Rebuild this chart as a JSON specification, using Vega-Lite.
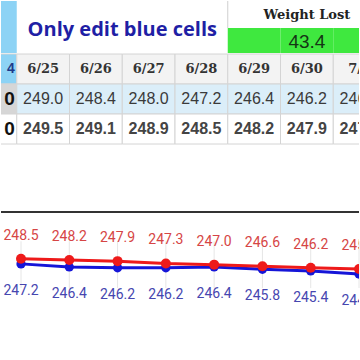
{
  "$schema": "https://vega.github.io/schema/vega-lite/v6.json",
  "width": 360,
  "height": 360,
  "autosize": {"type": "fit", "contains": "padding"},
  "padding": 0,
  "background": "white",
  "config": {"view": {"stroke": null}},
  "datasets": {
    "days": [
      {"date": "6/24", "weight": 250.0, "avg": 250.0},
      {"date": "6/25", "weight": 249.0, "avg": 249.5},
      {"date": "6/26", "weight": 248.4, "avg": 249.1},
      {"date": "6/27", "weight": 248.0, "avg": 248.9},
      {"date": "6/28", "weight": 247.2, "avg": 248.5},
      {"date": "6/29", "weight": 246.4, "avg": 248.2},
      {"date": "6/30", "weight": 246.2, "avg": 247.9},
      {"date": "7/1", "weight": 246.2, "avg": 247.3},
      {"date": "7/2", "weight": 246.4, "avg": 247.0},
      {"date": "7/3", "weight": 245.8, "avg": 246.6},
      {"date": "7/4", "weight": 245.4, "avg": 246.2},
      {"date": "7/5", "weight": 244.6, "avg": 245.9}
    ],
    "header": [{"title": "Only edit blue cells", "lostLabel": "Weight Lost", "lost": 43.4}],
    "edge": [
      {"row": "dates", "text": "4"},
      {"row": "weight", "text": "0"},
      {"row": "avg", "text": "0"}
    ]
  },
  "layer": [
    {
      "data": {"name": "days"},
      "transform": [{"filter": {"field": "date", "oneOf": ["6/24", "6/25", "6/26", "6/27", "6/28", "6/29", "6/30", "7/1"]}}],
      "layer": [
        {
          "transform": [{"filter": "datum.date === '6/24'"}],
          "mark": {"type": "rect", "fill": "#8dd3f5", "clip": true},
          "encoding": {
            "x": {"field": "date", "type": "nominal", "scale": {"type": "band", "domain": ["6/24", "6/25", "6/26", "6/27", "6/28", "6/29", "6/30", "7/1"], "range": [-37, 385], "paddingInner": 0, "paddingOuter": 0}, "axis": null},
            "y": {"datum": 0, "type": "quantitative", "scale": {"domain": [0, 2], "range": [0, 52], "nice": false, "zero": false}, "axis": null},
            "y2": {"datum": 2}
          }
        },
        {
          "transform": [{"filter": {"field": "date", "oneOf": ["6/29", "6/30", "7/1"]}}],
          "mark": {"type": "rect", "fill": "#3fe83f", "clip": true},
          "encoding": {
            "x": {"field": "date", "type": "nominal"},
            "y": {"datum": 1.04, "type": "quantitative"},
            "y2": {"datum": 2}
          }
        },
        {
          "data": {"values": [{}]},
          "mark": {"type": "rule", "color": "#cfcfcf", "strokeWidth": 1},
          "encoding": {
            "x": {"datum": "6/29", "type": "nominal", "bandPosition": 0},
            "y": {"datum": 0, "type": "quantitative"},
            "y2": {"datum": 1.04}
          }
        },
        {
          "data": {"name": "header"},
          "mark": {"type": "text", "font": "Open Sans", "fontWeight": "bold", "fontSize": 20, "color": "#1f1fa5", "align": "center", "baseline": "alphabetic"},
          "encoding": {
            "x": {"datum": "6/27", "type": "nominal", "bandPosition": 0},
            "y": {"datum": 1.35, "type": "quantitative"},
            "text": {"field": "title"}
          }
        },
        {
          "data": {"name": "header"},
          "mark": {"type": "text", "font": "DejaVu Serif", "fontWeight": "bold", "fontSize": 13, "color": "#222222", "align": "center", "baseline": "alphabetic"},
          "encoding": {
            "x": {"datum": "6/30", "type": "nominal", "bandPosition": 0.5},
            "y": {"datum": 0.71, "type": "quantitative"},
            "text": {"field": "lostLabel"}
          }
        },
        {
          "data": {"name": "header"},
          "mark": {"type": "text", "font": "Liberation Sans", "fontSize": 19, "color": "#153515", "align": "center", "baseline": "alphabetic"},
          "encoding": {
            "x": {"datum": "6/30", "type": "nominal", "bandPosition": 0.5},
            "y": {"datum": 1.81, "type": "quantitative"},
            "text": {"field": "lost", "type": "quantitative", "format": ".1f"}
          }
        }
      ]
    },
    {
      "data": {"name": "days"},
      "transform": [{"filter": {"field": "date", "oneOf": ["6/24", "6/25", "6/26", "6/27", "6/28", "6/29", "6/30", "7/1"]}}],
      "layer": [
        {
          "mark": {"type": "rect", "stroke": "#d4d4d4", "strokeWidth": 1, "clip": true},
          "encoding": {
            "x": {"field": "date", "type": "nominal", "scale": {"type": "band", "domain": ["6/24", "6/25", "6/26", "6/27", "6/28", "6/29", "6/30", "7/1"], "range": [-37, 385], "paddingInner": 0, "paddingOuter": 0}, "axis": null},
            "y": {"datum": "dates", "type": "nominal", "scale": {"type": "band", "domain": ["dates", "weight", "avg"], "range": [53, 143], "paddingInner": 0, "paddingOuter": 0}, "axis": null},
            "fill": {"condition": {"test": "datum.date === '6/24'", "value": "#8dd3f5"}, "value": "#f3f3f3"}
          }
        },
        {
          "mark": {"type": "rect", "stroke": "#d4d4d4", "strokeWidth": 1, "clip": true},
          "encoding": {
            "x": {"field": "date", "type": "nominal"},
            "y": {"datum": "weight", "type": "nominal"},
            "fill": {"condition": {"test": "datum.date === '6/24'", "value": "#d6d6d6"}, "value": "#dbeef9"}
          }
        },
        {
          "mark": {"type": "rect", "stroke": "#d4d4d4", "strokeWidth": 1, "clip": true, "fill": "#ffffff"},
          "encoding": {
            "x": {"field": "date", "type": "nominal"},
            "y": {"datum": "avg", "type": "nominal"}
          }
        },
        {
          "transform": [{"filter": "datum.date !== '6/24'"}],
          "mark": {"type": "text", "font": "DejaVu Serif", "fontWeight": "bold", "fontSize": 13, "color": "#333333", "baseline": "middle", "clip": true},
          "encoding": {
            "x": {"field": "date", "type": "nominal"},
            "y": {"datum": "dates", "type": "nominal"},
            "text": {"field": "date"}
          }
        },
        {
          "transform": [{"filter": "datum.date !== '6/24'"}],
          "mark": {"type": "text", "font": "Liberation Sans", "fontSize": 16, "color": "#3a3a3a", "baseline": "middle", "clip": true},
          "encoding": {
            "x": {"field": "date", "type": "nominal"},
            "y": {"datum": "weight", "type": "nominal"},
            "text": {"field": "weight", "type": "quantitative", "format": ".1f"}
          }
        },
        {
          "transform": [{"filter": "datum.date !== '6/24'"}],
          "mark": {"type": "text", "font": "Liberation Sans", "fontWeight": "bold", "fontSize": 16, "color": "#444444", "baseline": "middle", "clip": true},
          "encoding": {
            "x": {"field": "date", "type": "nominal"},
            "y": {"datum": "avg", "type": "nominal"},
            "text": {"field": "avg", "type": "quantitative", "format": ".1f"}
          }
        },
        {
          "data": {"name": "edge"},
          "transform": [{"filter": "datum.row === 'dates'"}],
          "mark": {"type": "text", "font": "Liberation Sans", "fontWeight": "bold", "fontSize": 14, "color": "#1f3a8a", "align": "right", "baseline": "middle", "dx": -2, "clip": true},
          "encoding": {
            "x": {"datum": "6/24", "type": "nominal", "bandPosition": 1},
            "y": {"field": "row", "type": "nominal"},
            "text": {"field": "text"}
          }
        },
        {
          "data": {"name": "edge"},
          "transform": [{"filter": "datum.row !== 'dates'"}],
          "mark": {"type": "text", "font": "Liberation Sans", "fontWeight": "bold", "fontSize": 19, "color": "#111111", "align": "right", "baseline": "middle", "dx": -2, "clip": true},
          "encoding": {
            "x": {"datum": "6/24", "type": "nominal", "bandPosition": 1},
            "y": {"field": "row", "type": "nominal"},
            "text": {"field": "text"}
          }
        }
      ]
    },
    {
      "data": {"name": "days"},
      "transform": [{"filter": {"field": "date", "oneOf": ["6/28", "6/29", "6/30", "7/1", "7/2", "7/3", "7/4", "7/5"]}}],
      "layer": [
        {
          "mark": {"type": "rule", "color": "#e6e6e6", "strokeWidth": 1},
          "encoding": {
            "x": {"field": "date", "type": "ordinal", "scale": {"type": "point", "domain": ["6/28", "6/29", "6/30", "7/1", "7/2", "7/3", "7/4", "7/5"], "range": [20, 358], "padding": 0}, "axis": null},
            "y": {"datum": 253, "type": "quantitative", "scale": {"domain": [222.3, 260.5], "range": [360, 211], "nice": false, "zero": false}, "axis": null},
            "y2": {"datum": 241}
          }
        },
        {
          "data": {"values": [{}]},
          "mark": {"type": "rule", "color": "#333333", "strokeWidth": 2},
          "encoding": {
            "y": {"datum": 260.5, "type": "quantitative"}
          }
        },
        {
          "mark": {"type": "line", "color": "#1515d8", "strokeWidth": 3, "clip": true},
          "encoding": {
            "x": {"field": "date", "type": "ordinal"},
            "y": {"field": "weight", "type": "quantitative"}
          }
        },
        {
          "mark": {"type": "circle", "color": "#1515d8", "opacity": 1, "size": 85, "clip": true},
          "encoding": {
            "x": {"field": "date", "type": "ordinal"},
            "y": {"field": "weight", "type": "quantitative"}
          }
        },
        {
          "mark": {"type": "line", "color": "#ee1a1a", "strokeWidth": 3, "clip": true},
          "encoding": {
            "x": {"field": "date", "type": "ordinal"},
            "y": {"field": "avg", "type": "quantitative"}
          }
        },
        {
          "mark": {"type": "circle", "color": "#ee1a1a", "opacity": 1, "size": 100, "clip": true},
          "encoding": {
            "x": {"field": "date", "type": "ordinal"},
            "y": {"field": "avg", "type": "quantitative"}
          }
        },
        {
          "mark": {"type": "text", "font": "Roboto", "fontSize": 14, "color": "#d64545", "baseline": "middle", "dy": -23, "clip": true},
          "encoding": {
            "x": {"field": "date", "type": "ordinal"},
            "y": {"field": "avg", "type": "quantitative"},
            "text": {"field": "avg", "type": "quantitative", "format": ".1f"}
          }
        },
        {
          "mark": {"type": "text", "font": "Roboto", "fontSize": 14, "color": "#4646b0", "baseline": "middle", "dy": 27, "clip": true},
          "encoding": {
            "x": {"field": "date", "type": "ordinal"},
            "y": {"field": "weight", "type": "quantitative"},
            "text": {"field": "weight", "type": "quantitative", "format": ".1f"}
          }
        }
      ]
    }
  ],
  "resolve": {"scale": {"x": "independent", "y": "independent"}}
}
